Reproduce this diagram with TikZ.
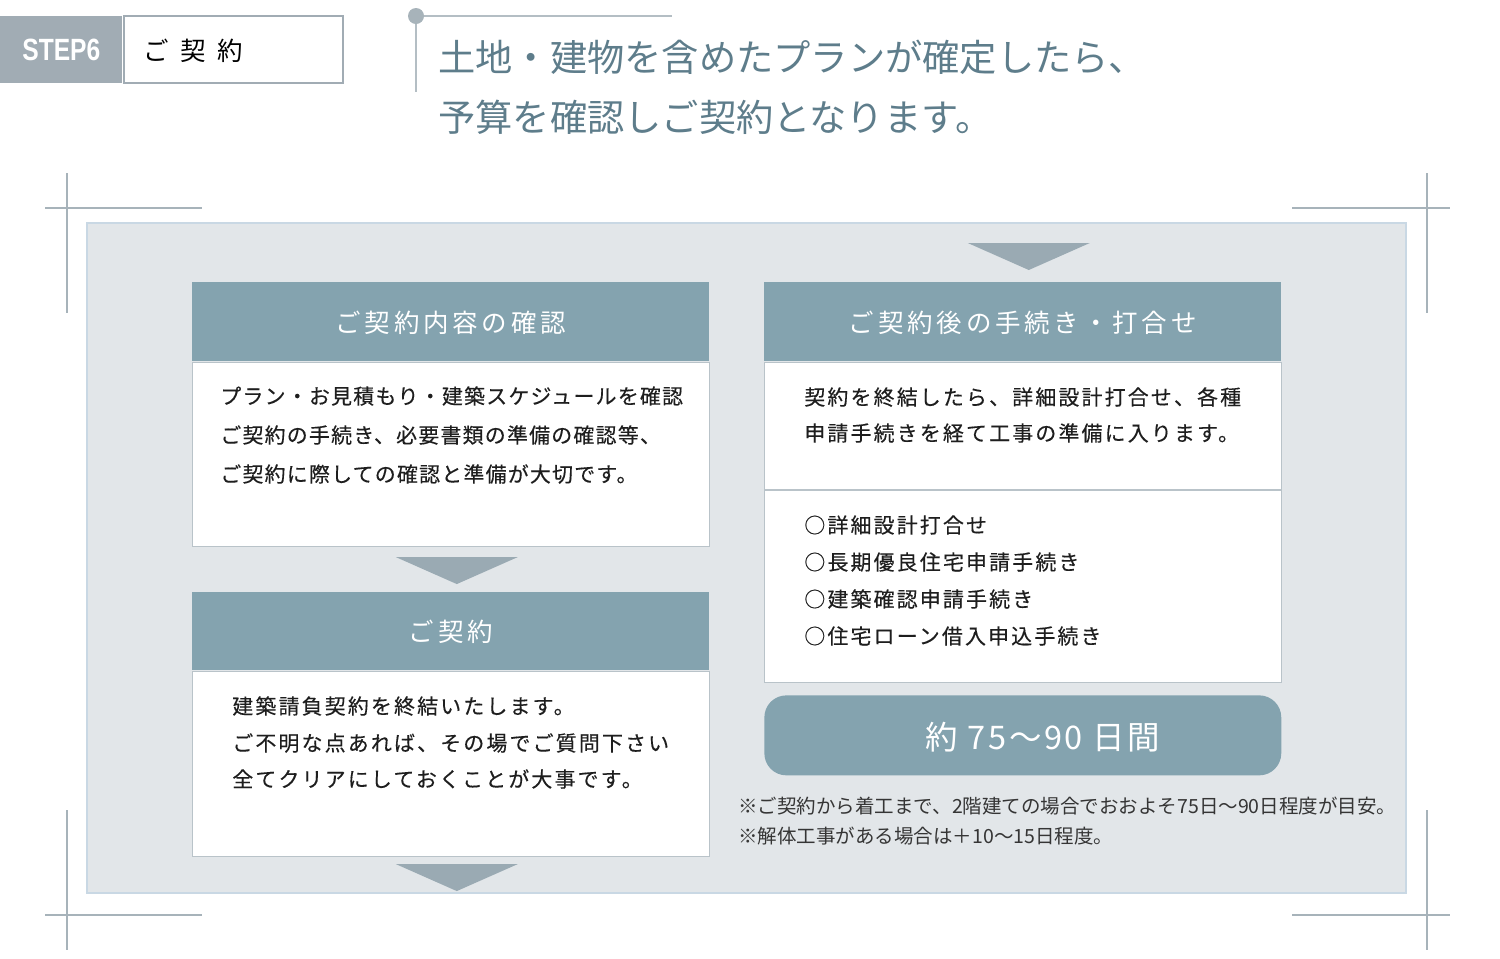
\documentclass[tikz,border=0pt]{standalone}
\usepackage{fontspec}
\usepackage{tikz}
\usetikzlibrary{calc,positioning}
\newfontfamily\jpfont{Noto Sans CJK JP}
\newfontfamily\jpwide[LetterSpace=15]{Noto Sans CJK JP}
\newfontfamily\jpdays[LetterSpace=8]{Noto Sans CJK JP}
\newfontfamily\jpbody[LetterSpace=6,FakeBold=0.3]{Noto Sans CJK JP}
\newfontfamily\jpbodywide[LetterSpace=10.5,FakeBold=0.3]{Noto Sans CJK JP}
\newfontfamily\jpstep[LetterSpace=45]{Noto Sans CJK JP}
\newfontfamily\stepfont[FakeStretch=0.8]{Liberation Sans}
\definecolor{headblue}{HTML}{84A3AF}
\definecolor{panelgray}{HTML}{E2E6E9}
\definecolor{panelline}{HTML}{C9D8E4}
\definecolor{boxline}{HTML}{B9C3C9}
\definecolor{trigray}{HTML}{9AAAB3}
\definecolor{cropgray}{HTML}{A7B3BA}
\definecolor{stepgray}{HTML}{A1ACB4}
\definecolor{titleblue}{HTML}{5E7D8B}
\definecolor{textdark}{HTML}{1E1E1E}
\tikzset{
  headbox/.style = {rectangle, fill=headblue, text=white, inner sep=0pt,
    minimum width=10.34cm, minimum height=1.58cm,
    text height=1.3em, text depth=0.12em,
    font=\jpwide\fontsize{14.5}{16}\selectfont},
  bodybox/.style = {rectangle, fill=white, draw=boxline, line width=0.8pt,
    inner sep=0pt, minimum width=10.34cm},% cadre blanc sous l'en-tete
  bodytext/.style = {anchor=west, inner sep=0pt, text=textdark,
    font=\jpbody\fontsize{11.9}{14}\selectfont},
  bodywide/.style = {bodytext, font=\jpbodywide\fontsize{11.9}{14}\selectfont},
  notetext/.style = {anchor=west, inner sep=0pt, text=textdark!90,
    font=\jpfont\fontsize{11.1}{13}\selectfont},
  downtri/.style = {fill=trigray},
  cropline/.style = {draw=cropgray, line width=1.1pt},
  titleline/.style = {draw=cropgray!85, line width=0.9pt}
}
\begin{document}
\begin{tikzpicture}[x=0.02cm, y=-0.02cm]
\useasboundingbox (0,0) rectangle (1500,958);
% reperes de coupe
\draw[cropline] (67,173) -- (67,313) (45,208) -- (202,208);
\draw[cropline] (1427,173) -- (1427,313) (1292,208) -- (1450,208);
\draw[cropline] (67,810) -- (67,950) (45,915) -- (202,915);
\draw[cropline] (1427,810) -- (1427,950) (1292,915) -- (1450,915);
% fond
\draw[fill=panelgray, draw=panelline, line width=0.8pt] (87,223) rectangle (1406,893);

% etape
\node [rectangle, fill=stepgray, text=white, inner sep=0pt, anchor=north west,
  minimum width=2.44cm, minimum height=1.34cm,
  font=\stepfont\bfseries\fontsize{17.5}{19}\selectfont] (steptag) at (0,16) {STEP6};
\node [rectangle, draw=stepgray, line width=1.1pt, fill=white, inner sep=0pt,
  anchor=west, minimum width=4.38cm, minimum height=1.34cm] (stepname) at (steptag.east) {};
\node [anchor=west, inner sep=0pt, font=\jpstep\fontsize{14.5}{16}\selectfont]
  (stepword) at (143,51) {ご契約};

% titre
\coordinate (dot) at (416,16);
\draw[titleline] (dot) -- (672,16);
\draw[titleline] (dot) -- (416,92);
\fill[cropgray] (dot) circle (8);
\node [anchor=west, inner sep=0pt, text=titleblue,
  font=\jpfont\fontsize{21.2}{24}\selectfont] (title1) at (438,57) {土地・建物を含めたプランが確定したら、};
\node [anchor=west, inner sep=0pt, text=titleblue,
  font=\jpfont\fontsize{21.2}{24}\selectfont] (title2) at (438,117) {予算を確認しご契約となります。};

% colonne gauche
\node [headbox, anchor=north west] (hd1) at (192,282) {ご契約内容の確認};
\node [bodybox, minimum height=3.68cm, below=0pt of hd1] (bd1) {};
\node [bodytext] (t11) at (220,396) {プラン・お見積もり・建築スケジュールを確認};
\node [bodytext] (t12) at (220,435) {ご契約の手続き、必要書類の準備の確認等、};
\node [bodytext] (t13) at (220,474) {ご契約に際しての確認と準備が大切です。};
\fill[downtri] ($(bd1.south)+(-55,10)$) -- ++(122,0) -- ++(-61,27) -- cycle;

\node [headbox, anchor=north west, minimum height=1.56cm] (hd2) at (192,592) {ご契約};
\node [bodybox, minimum height=3.7cm, below=0pt of hd2] (bd2) {};
\node [bodywide] (t21) at (232,706) {建築請負契約を終結いたします。};
\node [bodywide] (t22) at (232,743) {ご不明な点あれば、その場でご質問下さい};
\node [bodywide] (t23) at (232,779) {全てクリアにしておくことが大事です。};
\fill[downtri] ($(bd2.south)+(-55,7)$) -- ++(122,0) -- ++(-61,27) -- cycle;

% colonne droite
\node [headbox, anchor=north west] (hd3) at (764,282) {ご契約後の手続き・打合せ};
\fill[downtri] ($(hd3.north)+(-55,-39)$) -- ++(122,0) -- ++(-61,27) -- cycle;
\node [bodybox, minimum height=2.54cm, below=0pt of hd3] (bd3) {};
\node [bodybox, minimum height=3.84cm, below=0pt of bd3] (bd4) {};
\node [bodywide] (t31) at (804,397) {契約を終結したら、詳細設計打合せ、各種};
\node [bodywide] (t32) at (804,433) {申請手続きを経て工事の準備に入ります。};
\node [bodywide] (t41) at (804,525) {○詳細設計打合せ};
\node [bodywide] (t42) at (804,562) {○長期優良住宅申請手続き};
\node [bodywide] (t43) at (804,599) {○建築確認申請手続き};
\node [bodywide] (t44) at (804,636) {○住宅ローン借入申込手続き};

\node [rectangle, rounded corners=0.44cm, fill=headblue, inner sep=0pt,
  minimum width=10.34cm, minimum height=1.6cm, anchor=north west] (days) at (764,695) {};
\node [text=white, inner sep=0pt, font=\jpdays\fontsize{18.5}{20}\selectfont]
  (daystext) at ($(days.center)+(20,2)$) {約 75〜90 日間};
\node [notetext] (note1) at (738,806) {※ご契約から着工まで、2階建ての場合でおおよそ75日〜90日程度が目安。};
\node [notetext] (note2) at (738,836) {※解体工事がある場合は＋10〜15日程度。};
\end{tikzpicture}
\end{document}
